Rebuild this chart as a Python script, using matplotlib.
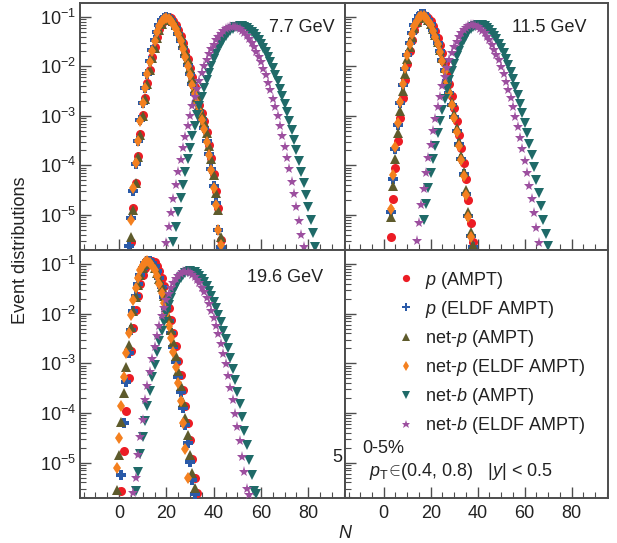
import numpy as np
import matplotlib
matplotlib.use("Agg")
import matplotlib.pyplot as plt
from matplotlib.lines import Line2D
from matplotlib.ticker import MultipleLocator, LogLocator, NullFormatter

plt.rcParams['font.family'] = ['Liberation Sans', 'DejaVu Sans']
plt.rcParams['mathtext.fontset'] = 'custom'
plt.rcParams['mathtext.rm'] = 'Liberation Sans'
plt.rcParams['mathtext.it'] = 'Liberation Sans:italic'

# ── data: log10(event fraction) per N bin, first bin = *_N0 ──────────────────
# 7.7 GeV
P_AMPT_77_N0 = 5
P_AMPT_77 = [-5.54, -4.86, -4.36, -3.82, -3.36, -2.98, -2.64, -2.34, -2.07, -1.82, -1.60, -1.41, -1.25,
             -1.13, -1.05, -1.01, -1.00, -1.03, -1.08, -1.16, -1.26, -1.38, -1.52, -1.68, -1.85, -2.03,
             -2.22, -2.42, -2.60, -2.78, -2.95, -3.10, -3.32, -3.58, -3.86, -4.17, -4.52, -4.86, -5.50]
P_ELDF_77_N0 = 4
P_ELDF_77 = [-5.62, -5.06, -4.51, -3.98, -3.50, -3.09, -2.74, -2.43, -2.15, -1.90, -1.67, -1.47, -1.30,
             -1.17, -1.07, -1.02, -1.00, -1.02, -1.07, -1.14, -1.23, -1.34, -1.48, -1.63, -1.80, -1.98,
             -2.16, -2.36, -2.55, -2.73, -2.90, -3.06, -3.25, -3.50, -3.78, -4.08, -4.42, -4.76, -5.31, -5.65]
NETP_AMPT_77_N0 = 5
NETP_AMPT_77 = [-5.45, -4.90, -4.35, -3.84, -3.38, -3.00, -2.65, -2.35, -2.08, -1.83, -1.62, -1.43, -1.27,
                -1.15, -1.07, -1.03, -1.02, -1.04, -1.09, -1.17, -1.27, -1.39, -1.53, -1.69, -1.86, -2.04,
                -2.23, -2.43, -2.62, -2.80, -2.97, -3.13, -3.35, -3.60, -3.88, -4.20, -4.55, -4.90, -5.45]
NETP_ELDF_77_N0 = 5
NETP_ELDF_77 = [-5.10, -4.45, -3.95, -3.50, -3.10, -2.75, -2.44, -2.16, -1.91, -1.68, -1.48, -1.31, -1.18,
                -1.09, -1.04, -1.02, -1.04, -1.08, -1.15, -1.24, -1.35, -1.49, -1.64, -1.81, -1.99, -2.17,
                -2.37, -2.56, -2.74, -2.91, -3.08, -3.27, -3.52, -3.80, -4.10, -4.45, -4.80, -5.30, -5.60]
NETB_AMPT_77_N0 = 23
NETB_AMPT_77 = [-5.55, -5.24, -4.95, -4.66, -4.39, -4.13, -3.88, -3.64, -3.41, -3.20, -2.99, -2.80, -2.61,
                -2.44, -2.28, -2.13, -1.99, -1.86, -1.75, -1.64, -1.55, -1.46, -1.39, -1.33, -1.28, -1.24,
                -1.21, -1.20, -1.19, -1.19, -1.21, -1.23, -1.26, -1.30, -1.35, -1.40, -1.47, -1.54, -1.62,
                -1.72, -1.82, -1.92, -2.04, -2.17, -2.30, -2.45, -2.60, -2.76, -2.93, -3.11, -3.29, -3.49,
                -3.69, -3.91, -4.13, -4.36, -4.60, -4.85, -5.10, -5.37, -5.64]
NETB_ELDF_77_N0 = 20
NETB_ELDF_77 = [-5.56, -5.25, -4.96, -4.67, -4.40, -4.14, -3.89, -3.65, -3.42, -3.21, -3.00, -2.81, -2.62,
                -2.45, -2.29, -2.14, -2.00, -1.87, -1.76, -1.65, -1.56, -1.47, -1.40, -1.34, -1.29, -1.25,
                -1.22, -1.21, -1.20, -1.20, -1.22, -1.25, -1.28, -1.33, -1.38, -1.45, -1.52, -1.61, -1.70,
                -1.81, -1.92, -2.05, -2.18, -2.33, -2.48, -2.65, -2.82, -3.01, -3.20, -3.41, -3.62, -3.85,
                -4.08, -4.33, -4.58, -4.85, -5.12, -5.41, -5.65]

# 11.5 GeV
P_AMPT_115_N0 = 3
P_AMPT_115 = [-5.45, -4.68, -4.05, -3.50, -3.04, -2.63, -2.27, -1.96, -1.69, -1.46, -1.27, -1.13, -1.03,
              -0.97, -0.96, -0.98, -1.02, -1.09, -1.18, -1.29, -1.42, -1.57, -1.74, -1.93, -2.14, -2.36,
              -2.60, -2.85, -3.10, -3.38, -3.65, -3.96, -4.27, -4.70, -5.16, -5.55]
P_ELDF_115_N0 = 3
P_ELDF_115 = [-4.95, -4.28, -3.67, -3.18, -2.75, -2.38, -2.05, -1.77, -1.53, -1.33, -1.17, -1.06, -0.98,
              -0.94, -0.95, -1.01, -1.07, -1.15, -1.26, -1.38, -1.53, -1.69, -1.87, -2.08, -2.29, -2.53,
              -2.78, -3.03, -3.30, -3.57, -3.87, -4.18, -4.57, -5.02, -5.43, -5.65]
NETP_AMPT_115_N0 = 3
NETP_AMPT_115 = [-5.05, -4.42, -3.87, -3.35, -2.90, -2.50, -2.16, -1.86, -1.61, -1.40, -1.23, -1.10, -1.02,
                 -0.98, -0.98, -1.01, -1.06, -1.14, -1.24, -1.36, -1.50, -1.66, -1.84, -2.04, -2.25, -2.48,
                 -2.72, -2.97, -3.24, -3.52, -3.82, -4.13, -4.50, -4.95, -5.35, -5.60]
NETP_ELDF_115_N0 = 3
NETP_ELDF_115 = [-4.88, -4.20, -3.62, -3.14, -2.72, -2.36, -2.04, -1.77, -1.54, -1.35, -1.19, -1.08, -1.01,
                 -0.98, -0.99, -1.03, -1.09, -1.17, -1.28, -1.40, -1.55, -1.71, -1.89, -2.09, -2.31, -2.54,
                 -2.79, -3.05, -3.32, -3.60, -3.90, -4.22, -4.60, -5.05, -5.45]
NETB_AMPT_115_N0 = 17
NETB_AMPT_115 = [-5.10, -4.78, -4.46, -4.16, -3.88, -3.60, -3.35, -3.10, -2.88, -2.66, -2.46, -2.28, -2.10,
                 -1.95, -1.80, -1.68, -1.56, -1.46, -1.38, -1.30, -1.25, -1.20, -1.18, -1.16, -1.16, -1.17,
                 -1.19, -1.22, -1.27, -1.32, -1.38, -1.45, -1.54, -1.63, -1.73, -1.85, -1.97, -2.11, -2.26,
                 -2.41, -2.58, -2.76, -2.94, -3.14, -3.35, -3.57, -3.80, -4.04, -4.29, -4.55, -4.82, -5.10,
                 -5.39, -5.62]
NETB_ELDF_115_N0 = 14
NETB_ELDF_115 = [-5.52, -5.16, -4.81, -4.48, -4.16, -3.86, -3.58, -3.31, -3.06, -2.83, -2.61, -2.40, -2.21,
                 -2.04, -1.88, -1.74, -1.61, -1.50, -1.41, -1.33, -1.27, -1.22, -1.19, -1.17, -1.17, -1.18,
                 -1.20, -1.24, -1.28, -1.33, -1.40, -1.47, -1.56, -1.66, -1.77, -1.88, -2.01, -2.16, -2.31,
                 -2.47, -2.64, -2.83, -3.02, -3.23, -3.44, -3.67, -3.91, -4.16, -4.41, -4.68, -4.97, -5.26,
                 -5.56]

# 19.6 GeV
P_AMPT_196_N0 = 1
P_AMPT_196 = [-5.56, -4.77, -3.95, -3.30, -2.75, -2.29, -1.92, -1.64, -1.41, -1.23, -1.09, -1.00, -0.95,
              -0.94, -0.97, -1.04, -1.14, -1.28, -1.45, -1.65, -1.88, -2.13, -2.39, -2.66, -2.95, -3.24,
              -3.54, -3.86, -4.20, -4.55, -4.93, -5.30, -5.60]
P_ELDF_196_N0 = 1
P_ELDF_196 = [-5.25, -4.20, -3.38, -2.80, -2.32, -1.94, -1.65, -1.41, -1.22, -1.08, -0.99, -0.95, -0.95,
              -0.98, -1.05, -1.15, -1.29, -1.46, -1.66, -1.89, -2.14, -2.40, -2.68, -2.97, -3.27, -3.58,
              -3.90, -4.24, -4.60, -4.98, -5.35, -5.62]
NETP_AMPT_196_N0 = -1
NETP_AMPT_196 = [-5.55, -4.85, -4.18, -3.60, -3.08, -2.64, -2.26, -1.94, -1.66, -1.42, -1.23, -1.09, -1.00,
                 -0.98, -0.98, -1.00, -1.08, -1.18, -1.31, -1.47, -1.65, -1.86, -2.08, -2.32, -2.58, -2.86,
                 -3.15, -3.45, -3.77, -4.10, -4.45, -4.85, -5.20, -5.50]
NETP_ELDF_196_N0 = -1
NETP_ELDF_196 = [-5.10, -4.50, -3.86, -3.28, -2.80, -2.38, -2.02, -1.72, -1.48, -1.28, -1.13, -1.02, -0.96,
                 -0.95, -0.98, -1.04, -1.13, -1.25, -1.40, -1.58, -1.78, -2.00, -2.24, -2.50, -2.78, -3.07,
                 -3.40, -3.75, -4.20, -4.72, -5.30]
NETB_AMPT_196_N0 = 7
NETB_AMPT_196 = [-5.56, -5.18, -4.83, -4.48, -4.16, -3.85, -3.56, -3.28, -3.03, -2.78, -2.56, -2.35, -2.16,
                 -1.98, -1.83, -1.68, -1.56, -1.45, -1.36, -1.28, -1.23, -1.18, -1.16, -1.15, -1.16, -1.17,
                 -1.20, -1.25, -1.30, -1.37, -1.45, -1.54, -1.64, -1.76, -1.88, -2.02, -2.17, -2.34, -2.51,
                 -2.70, -2.90, -3.11, -3.34, -3.57, -3.82, -4.08, -4.36, -4.64, -4.94, -5.25, -5.57, -5.62]
NETB_ELDF_196_N0 = 6
NETB_ELDF_196 = [-5.60, -5.30, -4.85, -4.48, -4.15, -3.74, -3.45, -3.17, -2.91, -2.67, -2.45, -2.24, -2.05,
                 -1.88, -1.73, -1.60, -1.48, -1.38, -1.30, -1.24, -1.20, -1.17, -1.16, -1.17, -1.19, -1.22,
                 -1.26, -1.32, -1.39, -1.48, -1.57, -1.68, -1.81, -1.94, -2.09, -2.25, -2.42, -2.61, -2.81,
                 -3.02, -3.25, -3.49, -3.74, -4.01, -4.28, -4.57, -4.88, -5.19, -5.52, -5.65]

LABELS = [r"$p$ (AMPT)", r"$p$ (ELDF AMPT)", r"net-$p$ (AMPT)",
          r"net-$p$ (ELDF AMPT)", r"net-$b$ (AMPT)", r"net-$b$ (ELDF AMPT)"]
ENERGIES = ["7.7 GeV", "11.5 GeV", "19.6 GeV"]

# marker, colour, size
STYLES = [
    ("o", "#ec1c24", 6.5),
    ("P", "#2a5aa8", 7.0),
    ("^", "#5e5b2c", 6.5),
    ("d", "#f4801f", 6.0),
    ("v", "#1f6a68", 7.5),
    ("*", "#9c4f9f", 8.0),
]

PANELS = [
    [(P_AMPT_77_N0, P_AMPT_77), (P_ELDF_77_N0, P_ELDF_77), (NETP_AMPT_77_N0, NETP_AMPT_77),
     (NETP_ELDF_77_N0, NETP_ELDF_77), (NETB_AMPT_77_N0, NETB_AMPT_77), (NETB_ELDF_77_N0, NETB_ELDF_77)],
    [(P_AMPT_115_N0, P_AMPT_115), (P_ELDF_115_N0, P_ELDF_115), (NETP_AMPT_115_N0, NETP_AMPT_115),
     (NETP_ELDF_115_N0, NETP_ELDF_115), (NETB_AMPT_115_N0, NETB_AMPT_115), (NETB_ELDF_115_N0, NETB_ELDF_115)],
    [(P_AMPT_196_N0, P_AMPT_196), (P_ELDF_196_N0, P_ELDF_196), (NETP_AMPT_196_N0, NETP_AMPT_196),
     (NETP_ELDF_196_N0, NETP_ELDF_196), (NETB_AMPT_196_N0, NETB_AMPT_196), (NETB_ELDF_196_N0, NETB_ELDF_196)],
]

FS = 13
SPINE = "#4d4d4d"


def style_axes(ax, xlabels, ylabels):
    ax.set_yscale("log")
    ax.set_xlim(-16.5, 95.5)
    ax.set_ylim(10 ** -5.71, 10 ** -0.72)
    ax.xaxis.set_major_locator(MultipleLocator(20))
    ax.xaxis.set_minor_locator(MultipleLocator(5))
    ax.yaxis.set_major_locator(LogLocator(base=10, numticks=10))
    ax.yaxis.set_minor_locator(LogLocator(base=10, subs=np.arange(2, 10), numticks=20))
    ax.yaxis.set_minor_formatter(NullFormatter())
    ax.tick_params(which="both", direction="in", colors=SPINE, labelcolor="#222222",
                   labelsize=FS, top=False, right=False)
    ax.tick_params(which="major", length=8, width=1.0)
    ax.tick_params(which="minor", length=4, width=0.8)
    ax.tick_params(axis="x", pad=5, labelbottom=xlabels)
    ax.tick_params(axis="y", pad=3, labelleft=ylabels)
    for sp in ax.spines.values():
        sp.set_color(SPINE)
        sp.set_linewidth(1.4)


def main():
    fig = plt.figure(figsize=(6.17, 5.43), dpi=100)
    L, M, R = 80 / 617, 345 / 617, 608 / 617
    T, C, B = 1 - 3 / 543, 1 - 250 / 543, 1 - 498 / 543

    ax_tl = fig.add_axes([L, C, M - L, T - C])
    ax_tr = fig.add_axes([M, C, R - M, T - C])
    ax_bl = fig.add_axes([L, B, M - L, C - B])
    ax_br = fig.add_axes([M, B, R - M, C - B])

    style_axes(ax_tl, False, True)
    style_axes(ax_tr, False, False)
    style_axes(ax_bl, True, True)
    style_axes(ax_br, True, False)

    for ax, panel, energy in zip([ax_tl, ax_tr, ax_bl], PANELS, ENERGIES):
        for (n0, vals), (mk, col, ms) in zip(panel, STYLES):
            vals = np.array(vals)
            n = np.arange(n0, n0 + len(vals))
            ax.plot(n, 10 ** vals, ls="none", marker=mk, color=col, ms=ms,
                    mew=0, zorder=3)

    ax_tl.text(0.962, 0.899, ENERGIES[0], transform=ax_tl.transAxes, ha="right",
               va="center", fontsize=FS, color="#222222")
    ax_tr.text(0.920, 0.899, ENERGIES[1], transform=ax_tr.transAxes, ha="right",
               va="center", fontsize=FS, color="#222222")
    ax_bl.text(0.917, 0.891, ENERGIES[2], transform=ax_bl.transAxes, ha="right",
               va="center", fontsize=FS, color="#222222")
    ax_bl.text(0.97, 0.165, "5", transform=ax_bl.transAxes, ha="center",
               va="center", fontsize=FS, color="#222222")

    # legend in the empty panel
    handles = [Line2D([0], [0], ls="none", marker=mk, color=col, ms=ms * 0.8, mew=0, label=lab)
               for (mk, col, ms), lab in zip(STYLES, LABELS)]
    ax_br.legend(handles=handles, loc="upper left", bbox_to_anchor=(0.17, 0.95),
                 frameon=False, fontsize=FS, handlelength=1.0, handletextpad=0.55,
                 labelspacing=0.45, borderaxespad=0, labelcolor="#222222")

    ax_br.text(0.065, 0.20, "0-5%", transform=ax_br.transAxes, ha="left", va="center",
               fontsize=FS, color="#222222")
    ax_br.text(0.09, 0.105, r"$p_{\rm T}\!\in\!$(0.4, 0.8)   |$y$| < 0.5", transform=ax_br.transAxes,
               ha="left", va="center", fontsize=FS, color="#222222")

    fig.text(0.034, 0.54, "Event distributions", rotation=90, ha="center", va="center",
             fontsize=FS, color="#222222")
    fig.text(0.559, 0.018, "N", style="italic", ha="center", va="center",
             fontsize=FS, color="#222222")

    fig.savefig("out.png", dpi=100)


if __name__ == "__main__":
    main()
